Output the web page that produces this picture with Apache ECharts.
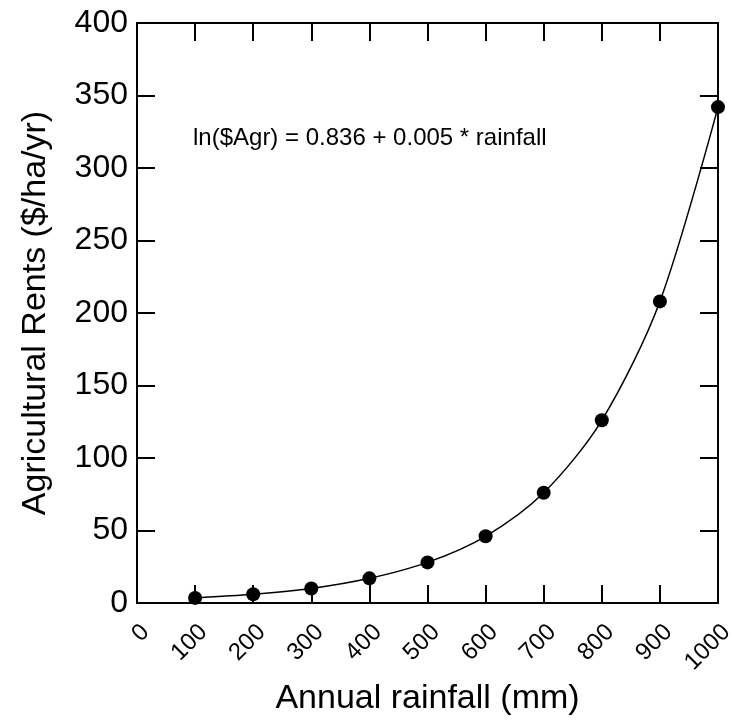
<!DOCTYPE html>
<html>
<head>
<meta charset="utf-8">
<script src="https://cdn.jsdelivr.net/npm/echarts@6/dist/echarts.min.js"></script>
<style>
  html, body { margin: 0; padding: 0; background: #fff; }
  #chart { width: 732px; height: 721px; }
</style>
</head>
<body>
<div id="chart"></div>
<script>
// rainfall (mm) and agricultural rents ($/ha/yr)
const rainfall = [100, 200, 300, 400, 500, 600, 700, 800, 900, 1000]
const rents = [3.5, 6, 10, 17, 28, 46, 76, 126, 208, 342]
const equation = 'ln($Agr) = 0.836 + 0.005 * rainfall'

const font = '"Liberation Sans", Arial, Helvetica, sans-serif'

const chart = echarts.init(document.getElementById('chart'))

// frame on all four sides, ticks pointing in
const frameAxis = {
  axisLine: { show: true, onZero: false, lineStyle: { color: '#000', width: 2 } },
  axisTick: { show: true, inside: true, length: 18, lineStyle: { color: '#000', width: 2 } },
  splitLine: { show: false }
}

chart.setOption({
  animation: false,
  backgroundColor: '#fff',
  grid: { left: 137, right: 14, top: 23, bottom: 118, outerBoundsMode: 'none' },
  xAxis: [
    Object.assign({
      type: 'value',
      min: 0,
      max: 1000,
      interval: 100,
      position: 'bottom',
      name: 'Annual rainfall (mm)',
      nameLocation: 'middle',
      nameGap: 76,
      nameTextStyle: { fontFamily: font, fontSize: 34, color: '#000' },
      axisLabel: {
        rotate: 45,
        margin: 17,
        verticalAlign: 'top',
        fontFamily: font,
        fontSize: 24,
        color: '#000',
        formatter: v => String(v)
      }
    }, frameAxis),
    Object.assign({
      type: 'value',
      min: 0,
      max: 1000,
      interval: 100,
      position: 'top',
      axisLabel: { show: false }
    }, frameAxis)
  ],
  yAxis: [
    Object.assign({
      type: 'value',
      min: 0,
      max: 400,
      interval: 50,
      position: 'left',
      name: 'Agricultural Rents ($/ha/yr)',
      nameLocation: 'middle',
      nameGap: 84,
      nameTextStyle: { fontFamily: font, fontSize: 34, color: '#000' },
      axisLabel: { margin: 9, fontFamily: font, fontSize: 32, color: '#000' }
    }, frameAxis),
    Object.assign({
      type: 'value',
      min: 0,
      max: 400,
      interval: 50,
      position: 'right',
      axisLabel: { show: false }
    }, frameAxis)
  ],
  graphic: [
    {
      type: 'text',
      left: 193,
      top: 126,
      style: { text: equation, font: '24px ' + font, fill: '#000' }
    }
  ],
  series: [
    {
      type: 'line',
      data: rainfall.map((r, i) => [r, rents[i]]),
      smooth: 0.3,
      symbol: 'circle',
      symbolSize: 14,
      itemStyle: { color: '#000' },
      lineStyle: { color: '#000', width: 1.5 }
    }
  ]
})
</script>
</body>
</html>
